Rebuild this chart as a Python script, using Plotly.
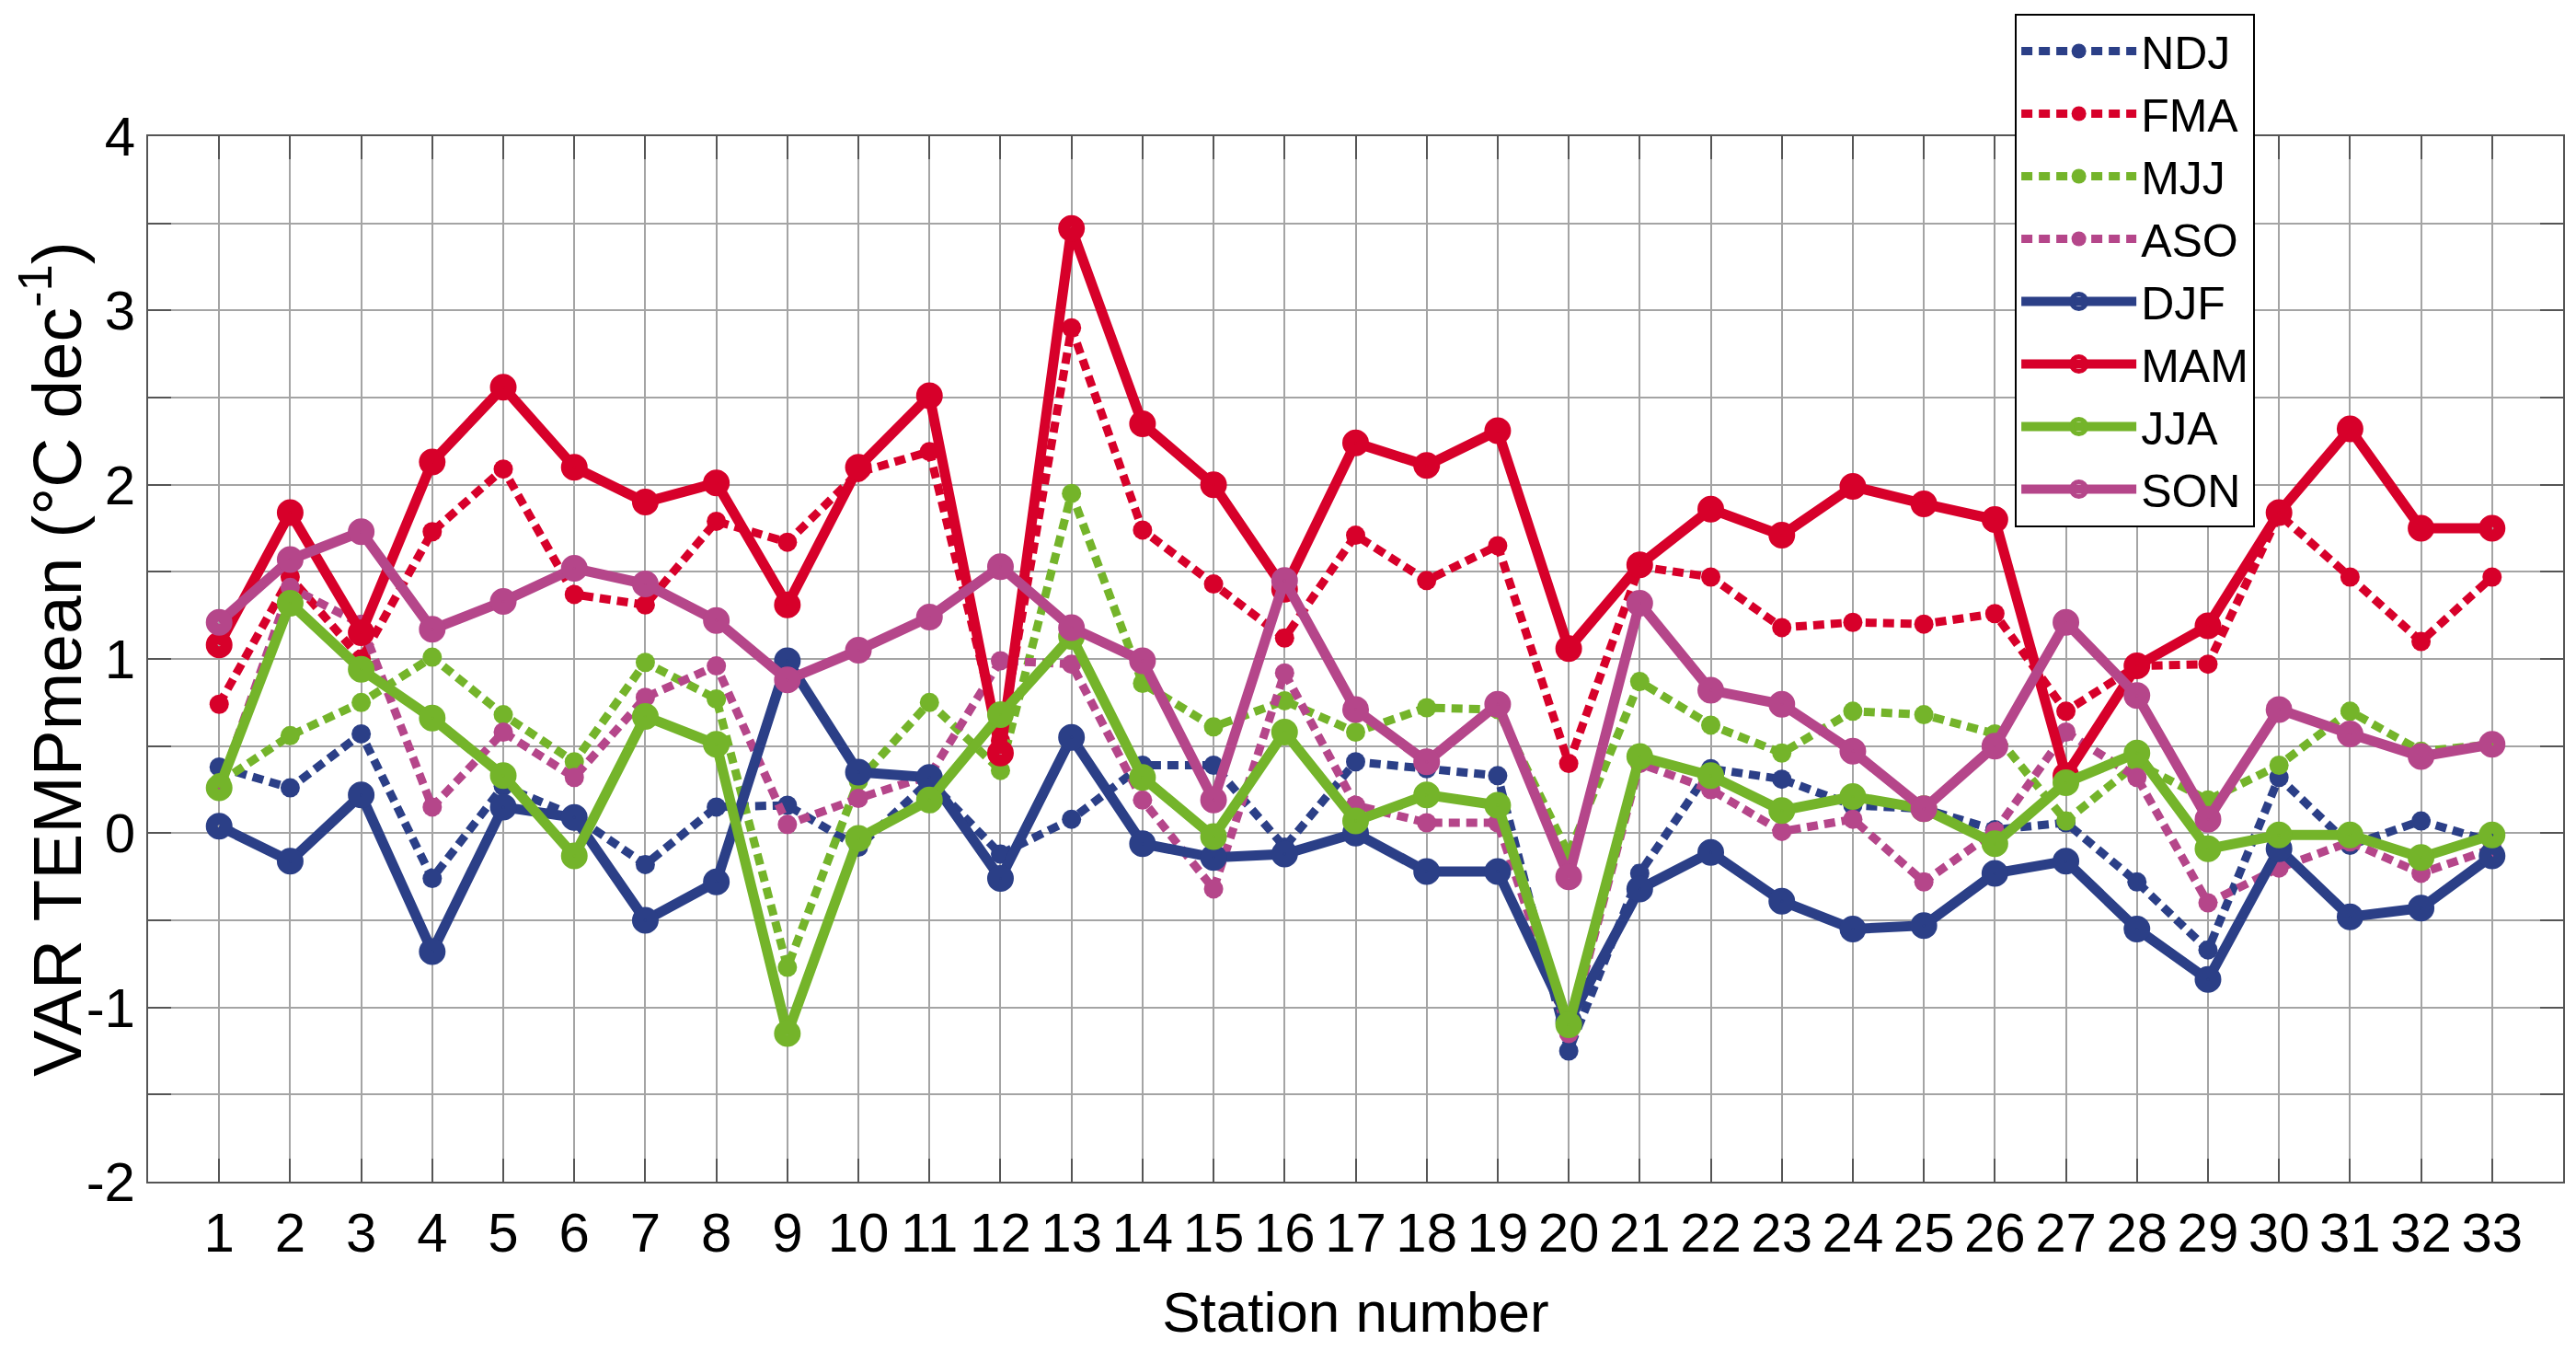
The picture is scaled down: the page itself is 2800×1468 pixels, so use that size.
import plotly.graph_objects as go

# station numbers along x
stations = list(range(1, 34))

# y tick labels (plain hyphen, as in the original)
y_ticks = [-2, -1, 0, 1, 2, 3, 4]
y_labels = ["-2", "-1", "0", "1", "2", "3", "4"]

# 3-month windows (dotted)
ndj = [0.38, 0.26, 0.57, -0.26, 0.27, 0.10, -0.18, 0.15, 0.16, -0.08, 0.30, -0.12, 0.08, 0.39, 0.39, -0.08, 0.41,
       0.37, 0.33, -1.25, -0.23, 0.37, 0.31, 0.16, 0.14, 0.02, 0.06, -0.28, -0.67, 0.32, -0.07, 0.07, -0.05]
fma = [0.74, 1.47, 1.00, 1.73, 2.09, 1.37, 1.31, 1.79, 1.67, 2.07, 2.19, 0.53, 2.90, 1.74, 1.43, 1.12, 1.71,
       1.45, 1.65, 0.40, 1.53, 1.47, 1.18, 1.21, 1.20, 1.26, 0.70, 0.96, 0.97, 1.83, 1.47, 1.10, 1.47]
mjj = [0.29, 0.56, 0.75, 1.01, 0.68, 0.41, 0.98, 0.77, -0.77, 0.30, 0.75, 0.36, 1.95, 0.86, 0.61, 0.76, 0.58,
       0.72, 0.71, -0.12, 0.87, 0.62, 0.46, 0.70, 0.68, 0.57, 0.07, 0.40, 0.19, 0.39, 0.70, 0.47, 0.51]
aso = [0.25, 1.41, 1.20, 0.15, 0.58, 0.32, 0.78, 0.96, 0.05, 0.20, 0.33, 0.99, 0.97, 0.19, -0.32, 0.92, 0.16,
       0.06, 0.06, -1.15, 0.40, 0.25, 0.01, 0.08, -0.28, 0.01, 0.58, 0.32, -0.40, -0.20, -0.05, -0.23, -0.09]

# seasons (solid)
djf = [0.04, -0.16, 0.22, -0.68, 0.15, 0.09, -0.50, -0.28, 0.99, 0.35, 0.32, -0.26, 0.55, -0.06, -0.14, -0.12, 0.00,
       -0.22, -0.22, -1.08, -0.32, -0.11, -0.39, -0.55, -0.53, -0.23, -0.16, -0.55, -0.84, -0.09, -0.48, -0.43, -0.13]
mam = [1.08, 1.84, 1.15, 2.13, 2.56, 2.10, 1.90, 2.01, 1.31, 2.10, 2.51, 0.46, 3.47, 2.35, 2.00, 1.40, 2.24,
       2.11, 2.31, 1.06, 1.54, 1.86, 1.71, 1.99, 1.89, 1.80, 0.33, 0.96, 1.19, 1.84, 2.32, 1.75, 1.75]
jja = [0.26, 1.32, 0.94, 0.66, 0.33, -0.13, 0.67, 0.51, -1.15, -0.03, 0.19, 0.68, 1.13, 0.32, -0.02, 0.58, 0.07,
       0.22, 0.16, -1.10, 0.44, 0.33, 0.13, 0.21, 0.14, -0.06, 0.29, 0.46, -0.09, -0.01, -0.01, -0.14, -0.01]
son = [1.21, 1.57, 1.73, 1.17, 1.33, 1.52, 1.43, 1.22, 0.88, 1.05, 1.24, 1.53, 1.18, 0.99, 0.19, 1.45, 0.71,
       0.41, 0.74, -0.25, 1.32, 0.82, 0.74, 0.47, 0.14, 0.50, 1.21, 0.79, 0.08, 0.71, 0.57, 0.44, 0.51]

blue = "#2b3f87"
red = "#d7002a"
green = "#74b42a"
pink = "#b5468a"

series = [
    ("NDJ", ndj, blue, "dot"),
    ("FMA", fma, red, "dot"),
    ("MJJ", mjj, green, "dot"),
    ("ASO", aso, pink, "dot"),
    ("DJF", djf, blue, "solid"),
    ("MAM", mam, red, "solid"),
    ("JJA", jja, green, "solid"),
    ("SON", son, pink, "solid"),
]

fig = go.Figure()

for name, vals, col, dash in series:
    if dash == "dot":
        mk = dict(symbol="circle", size=21, color=col)
        ln = dict(color=col, width=9, dash="12px,7px")
    else:
        # thick open circle -> filled look with a tiny hole, like the matlab 'o'
        mk = dict(symbol="circle-open", size=16, color=col, line=dict(width=13, color=col))
        ln = dict(color=col, width=11)
    fig.add_trace(go.Scatter(
        x=stations, y=vals, name=name, legendgroup=name,
        mode="lines+markers",
        line=ln,
        marker=mk,
    ))

sans = "Liberation Sans, Arial, sans-serif"
grid = "#a4a4a4"
axcol = "#555555"

# page body has an 8px margin, so the figure is 16px smaller than the window
fig.update_layout(
    width=2784, height=1452,
    margin=dict(l=153, r=6, t=135, b=176),
    plot_bgcolor="white",
    paper_bgcolor="white",
    font=dict(family=sans, color="black"),
    legend=dict(
        x=0.773, y=1.1175, xanchor="left", yanchor="top",
        bgcolor="white", bordercolor="black", borderwidth=2,
        font=dict(family=sans, size=50),
        itemwidth=125,
        tracegroupgap=0,
    ),
)

fig.update_xaxes(
    range=[0, 34],
    tickvals=stations,
    ticks="inside", ticklen=25, tickwidth=2, tickcolor=axcol,
    showgrid=True, gridcolor=grid, gridwidth=1.5,
    showline=True, linecolor=axcol, linewidth=2, mirror="ticks",
    tickfont=dict(family=sans, size=60),
    ticklabelstandoff=2,
    zeroline=False,
    automargin=False,
    title=dict(text="Station number", font=dict(family=sans, size=62), standoff=32),
)

fig.update_yaxes(
    range=[-2, 4],
    tickvals=y_ticks, ticktext=y_labels,
    ticks="inside", ticklen=25, tickwidth=2, tickcolor=axcol,
    showgrid=True, gridcolor=grid, gridwidth=1.5,
    minor=dict(dtick=0.5, ticks="inside", ticklen=25, tickwidth=2, tickcolor=axcol,
               showgrid=True, gridcolor=grid, gridwidth=1.5),
    showline=True, linecolor=axcol, linewidth=2, mirror="ticks",
    tickfont=dict(family=sans, size=60),
    ticklabelstandoff=0,
    zeroline=False,
    automargin=False,
    title=dict(text="VAR TEMPmean (°C dec<sup>-1</sup>)", font=dict(family=sans, size=75), standoff=6),
)

fig.write_html("out.html")
